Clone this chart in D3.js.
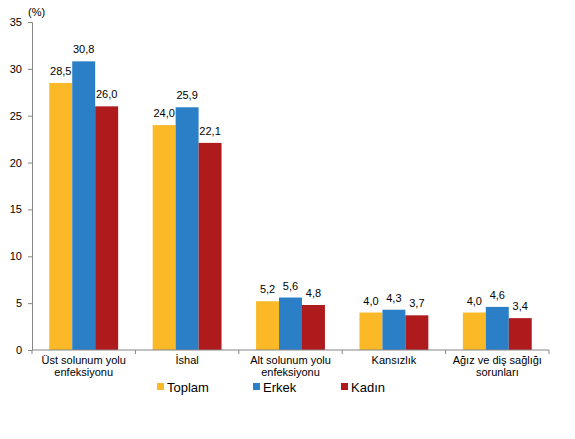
<!DOCTYPE html>
<html lang="tr">
<head>
<meta charset="utf-8">
<title>Bar chart</title>
<script src="https://d3js.org/d3.v7.js"></script>
<style>
  body { margin: 0; background: #fff; }
  text { font-family: "Liberation Sans", Arial, sans-serif; fill: #000; }
</style>
</head>
<body>
<script>
  var w = 575, h = 439;
  var margin = {top: 22, left: 32, right: 26, bottom: 89};

  // data
  var categories = [["Üst solunum yolu", "enfeksiyonu"], ["İshal"], ["Alt solunum yolu", "enfeksiyonu"], ["Kansızlık"], ["Ağız ve diş sağlığı", "sorunları"]];
  var seriesNames = ["Toplam", "Erkek", "Kadın"];
  var toplam = [28.5, 24.0, 5.2, 4.0, 4.0];
  var erkek = [30.8, 25.9, 5.6, 4.3, 4.6];
  var kadin = [26.0, 22.1, 4.8, 3.7, 3.4];
  var yTicks = [0, 5, 10, 15, 20, 25, 30, 35];

  var colors = ["#FBB927", "#2B7FC7", "#AF1A1D"];
  var values = [toplam, erkek, kadin];

  var innerW = w - margin.left - margin.right;
  var innerH = h - margin.top - margin.bottom;

  var svg = d3.select("body").append("svg")
    .attr("width", w).attr("height", h);

  var g = svg.append("g")
    .attr("transform", `translate(${margin.left},${margin.top})`);

  var x0 = d3.scaleBand()
    .domain(d3.range(categories.length))
    .range([0, innerW]);

  var x1 = d3.scaleBand()
    .domain(d3.range(seriesNames.length))
    .range([x0.bandwidth() * 0.167, x0.bandwidth() * 0.833]);

  var y = d3.scaleLinear().domain([0, 35]).range([innerH, 0]);

  // y axis
  var yAxis = d3.axisLeft(y).tickValues(yTicks).tickSize(4).tickPadding(6)
    .tickFormat(d3.format("d"));
  var ya = g.append("g").call(yAxis);
  ya.selectAll("path, line").attr("stroke", "#868686");
  ya.selectAll("text").style("font-size", "11px").style("font-family", "Liberation Sans, Arial, sans-serif");

  // bars
  var groups = g.selectAll(".series")
    .data(values)
    .enter().append("g")
    .attr("class", "series")
    .attr("fill", (d, i) => colors[i]);

  groups.each(function(vals, si) {
    var grp = d3.select(this);
    grp.selectAll("rect")
      .data(vals)
      .enter().append("rect")
      .attr("x", (d, i) => x0(i) + x1(si))
      .attr("y", d => y(d))
      .attr("width", x1.bandwidth())
      .attr("height", d => innerH - y(d));

    grp.selectAll("text")
      .data(vals)
      .enter().append("text")
      .attr("x", (d, i) => x0(i) + x1(si) + x1.bandwidth() / 2)
      .attr("y", d => y(d) - 8)
      .attr("text-anchor", "middle")
      .style("font-size", "11px")
      .style("fill", "#000")
      .text(d => d.toFixed(1).replace(".", ","));
  });

  // x axis
  var xa = g.append("g").attr("transform", `translate(0,${innerH})`);
  xa.append("line")
    .attr("x1", 0).attr("x2", innerW)
    .attr("stroke", "#868686");
  xa.selectAll(".tick")
    .data(d3.range(categories.length + 1))
    .enter().append("line")
    .attr("x1", d => d < categories.length ? x0(d) : innerW)
    .attr("x2", d => d < categories.length ? x0(d) : innerW)
    .attr("y1", 0).attr("y2", 4)
    .attr("stroke", "#868686");

  var labels = xa.selectAll(".cat")
    .data(categories)
    .enter().append("text")
    .attr("class", "cat")
    .attr("text-anchor", "middle")
    .attr("transform", (d, i) => `translate(${x0(i) + x0.bandwidth() / 2},14)`)
    .style("font-size", "11px");
  labels.selectAll("tspan")
    .data(d => d)
    .enter().append("tspan")
    .attr("x", 0)
    .attr("dy", (d, i) => i === 0 ? 0 : 12)
    .text(d => d);

  // unit label
  svg.append("text")
    .attr("x", 28).attr("y", 16)
    .style("font-size", "11px")
    .text("(%)");

  // legend
  var legendX = [157, 253, 341];
  var legend = svg.selectAll(".legend")
    .data(seriesNames)
    .enter().append("g")
    .attr("class", "legend")
    .attr("transform", (d, i) => `translate(${legendX[i]},383)`);
  legend.append("rect")
    .attr("width", 7).attr("height", 7)
    .attr("fill", (d, i) => colors[i]);
  legend.append("text")
    .attr("x", 10).attr("y", 9)
    .style("font-size", "13px")
    .text(d => d);
</script>
</body>
</html>
